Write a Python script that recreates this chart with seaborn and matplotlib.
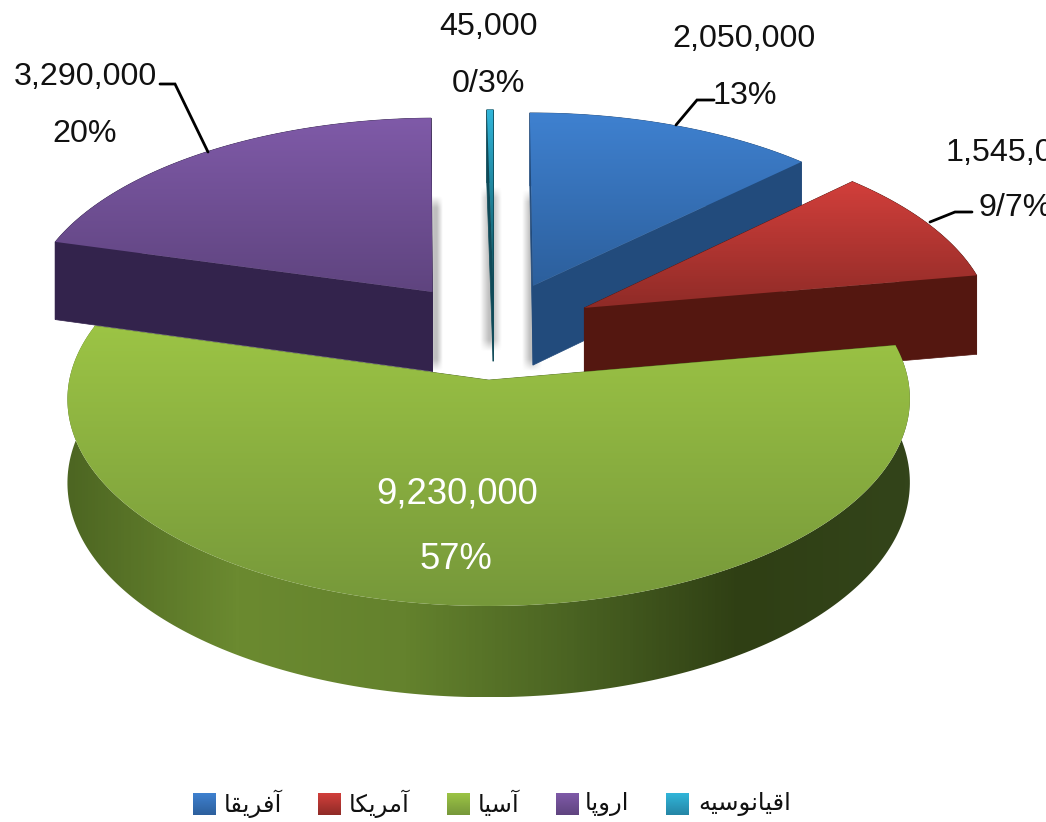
import numpy as np
import matplotlib
matplotlib.use('Agg')
import matplotlib.pyplot as plt
from matplotlib.colors import LinearSegmentedColormap
from matplotlib.patches import Polygon
import seaborn as sns

# Data
categories = ['آفریقا', 'آمریکا', 'آسیا', 'اروپا', 'اقیانوسیه']
values = [2050000, 1545000, 9230000, 3290000, 45000]
percents = ['13%', '9/7%', '57%', '20%', '0/3%']

# Colours: top face start, top face end, wall
top_start = ['#3f81d0', '#d23f3b', '#9cc445', '#7f5aa8', '#31b6da']
top_end = ['#2c5f9c', '#8f2b27', '#76983a', '#5f447f', '#0d4f5a']
wall_cols = ['#224b7c', '#541710', '#4f6a22', '#33234c', '#0f4a58']
green_wall = ['#4d6622', '#6b8a30', '#64822d', '#4a6322', '#2f3f14', '#33441a']

# Projection of the flat pie on the page, in pixels
CX, CY = 494, 330
SX, SY = 410, 196
PERSP = 0.09
DEPTH = 81

# Minimal shaping: isolated, final, initial, medial forms
FORMS = {
    'ا': '\uFE8D\uFE8E', 'آ': '\uFE81\uFE82', 'ر': '\uFEAD\uFEAE', 'و': '\uFEED\uFEEE',
    'ف': '\uFED1\uFED2\uFED3\uFED4', 'ی': '\uFBFC\uFBFD\uFBFE\uFBFF',
    'ق': '\uFED5\uFED6\uFED7\uFED8', 'م': '\uFEE1\uFEE2\uFEE3\uFEE4',
    'ک': '\uFB8E\uFB8F\uFB90\uFB91', 'س': '\uFEB1\uFEB2\uFEB3\uFEB4',
    'پ': '\uFB56\uFB57\uFB58\uFB59', 'ن': '\uFEE5\uFEE6\uFEE7\uFEE8',
    'ه': '\uFEE9\uFEEA\uFEEB\uFEEC',
}


def shape(word):
    out = []
    for i, ch in enumerate(word):
        forms = FORMS[ch]
        prev = i > 0 and len(FORMS[word[i - 1]]) == 4
        nxt = i < len(word) - 1 and len(forms) == 4
        idx = {(False, False): 0, (True, False): 1, (False, True): 2, (True, True): 3}[(prev, nxt)]
        out.append(forms[idx])
    return ''.join(reversed(out))


def project(x, y, drop=0.0):
    s = 1 / (1 + PERSP * np.asarray(y))
    return np.column_stack([CX + SX * np.asarray(x) * s, CY - SY * np.asarray(y) * s + drop * s])


def gradient(ax, pts, colors, horizontal=False, zorder=1):
    poly = Polygon(pts, closed=True, fc='none', ec='none', transform=ax.transData)
    ax.add_patch(poly)
    cmap = LinearSegmentedColormap.from_list('g', colors)
    grad = np.linspace(0, 1, 256).reshape(1, -1) if horizontal else np.linspace(0, 1, 256).reshape(-1, 1)
    x0, y0 = pts.min(axis=0)
    x1, y1 = pts.max(axis=0)
    im = ax.imshow(grad, cmap=cmap, extent=(x0, x1, y1, y0), aspect='auto', zorder=zorder,
                   interpolation='bilinear', origin='upper')
    im.set_clip_path(poly)


def soft_shadow(ax, x0, x1, y0, y1):
    # blurred grey strip behind a slice
    xx = np.clip(np.minimum(np.linspace(0, 1, 40), np.linspace(1, 0, 40)) * 2.5, 0, 1)
    yy = np.clip(np.minimum(np.linspace(0, 1, 80), np.linspace(1, 0, 80)) * 15, 0, 1)
    img = np.zeros((80, 40, 4))
    img[..., :3] = 0.5
    img[..., 3] = np.outer(yy, xx) * 0.5
    ax.imshow(img, extent=(x0, x1, y1, y0), aspect='auto', zorder=1, interpolation='bilinear')


sns.set_theme(style='white')
plt.rcParams['font.family'] = ['Liberation Sans', 'DejaVu Sans']

fig = plt.figure(figsize=(10.46, 8.22), dpi=100)
ax = fig.add_axes([0, 0, 1, 1])

# The pie gives the slice angles and the explode offsets
wedges, _ = ax.pie(values, explode=[0.25] * 5, startangle=90, counterclock=False, radius=1)
slices = [(w.center, w.theta1, w.theta2, w.r) for w in wedges]
for w in wedges:
    w.remove()

soft_shadow(ax, 428, 443, 195, 372)
soft_shadow(ax, 480, 502, 187, 352)
soft_shadow(ax, 522, 542, 190, 372)

draw_order = [3, 0, 4, 1, 2]
for n, i in enumerate(draw_order):
    (ox, oy), t1, t2, r = slices[i]
    th = np.radians(np.linspace(t1, t2, 240))
    arc_x = ox + r * np.cos(th)
    arc_y = oy + r * np.sin(th)
    top = project(np.r_[ox, arc_x], np.r_[oy, arc_y])
    z = 2 + n * 3

    # cut faces
    for k in (0, -1):
        edge_x = [ox, arc_x[k]]
        edge_y = [oy, arc_y[k]]
        quad = np.vstack([project(edge_x, edge_y), project(edge_x, edge_y, DEPTH)[::-1]])
        ax.add_patch(Polygon(quad, closed=True, fc=wall_cols[i], ec=wall_cols[i], lw=0.5, zorder=z))

    # outer wall
    wall = np.vstack([project(arc_x, arc_y), project(arc_x, arc_y, DEPTH)[::-1]])
    if i == 2:
        gradient(ax, wall, green_wall, horizontal=True, zorder=z + 1)
    else:
        ax.add_patch(Polygon(wall, closed=True, fc=wall_cols[i], ec=wall_cols[i], lw=0.5, zorder=z + 1))

    # top face
    gradient(ax, top, [top_start[i], top_end[i]], zorder=z + 2)

# Labels
label_size = 23.2
ax.text(488, 27, f'{values[4]:,}', ha='center', va='center', fontsize=label_size, color='#111111', zorder=40)
ax.text(488, 84, percents[4], ha='center', va='center', fontsize=label_size, color='#111111', zorder=40)
ax.text(744, 39, f'{values[0]:,}', ha='center', va='center', fontsize=label_size, color='#111111', zorder=40)
ax.text(745, 96, percents[0], ha='center', va='center', fontsize=label_size, color='#111111', zorder=40)
ax.text(85, 77, f'{values[3]:,}', ha='center', va='center', fontsize=label_size, color='#111111', zorder=40)
ax.text(85, 134, percents[3], ha='center', va='center', fontsize=label_size, color='#111111', zorder=40)
ax.text(945, 153, f'{values[1]:,}', ha='left', va='center', fontsize=label_size, color='#111111', zorder=40)
ax.text(979, 208, percents[1], ha='left', va='center', fontsize=label_size, color='#111111', zorder=40)
ax.text(457, 494, f'{values[2]:,}', ha='center', va='center', fontsize=26.2, color='white', zorder=40)
ax.text(456, 559, percents[2], ha='center', va='center', fontsize=26.2, color='white', zorder=40)

# Leader lines
ax.plot([160, 175, 208], [84, 84, 152], color='black', lw=2, zorder=39, solid_joinstyle='miter')
ax.plot([714, 697, 676], [100, 100, 125], color='black', lw=2, zorder=39, solid_joinstyle='miter')
ax.plot([972, 955, 930], [212, 212, 222], color='black', lw=2, zorder=39, solid_joinstyle='miter')

# Legend
swatch_left = [193, 318, 447, 556, 666]
text_left = [224, 349, 478, 585, 698]
for i, name in enumerate(categories):
    x0 = swatch_left[i]
    sw = np.array([[x0, 793], [x0 + 23, 793], [x0 + 23, 815], [x0, 815]], dtype=float)
    gradient(ax, sw, [top_start[i], top_end[i] if i != 4 else '#2585a5'], zorder=30)
    ax.text(text_left[i], 804, shape(name), ha='left', va='center', fontsize=17.5,
            family='DejaVu Sans', color='#111111', zorder=40)

ax.set_xlim(0, 1046)
ax.set_ylim(822, 0)
ax.set_aspect('auto')
ax.axis('off')
fig.savefig('out.png', dpi=100)
